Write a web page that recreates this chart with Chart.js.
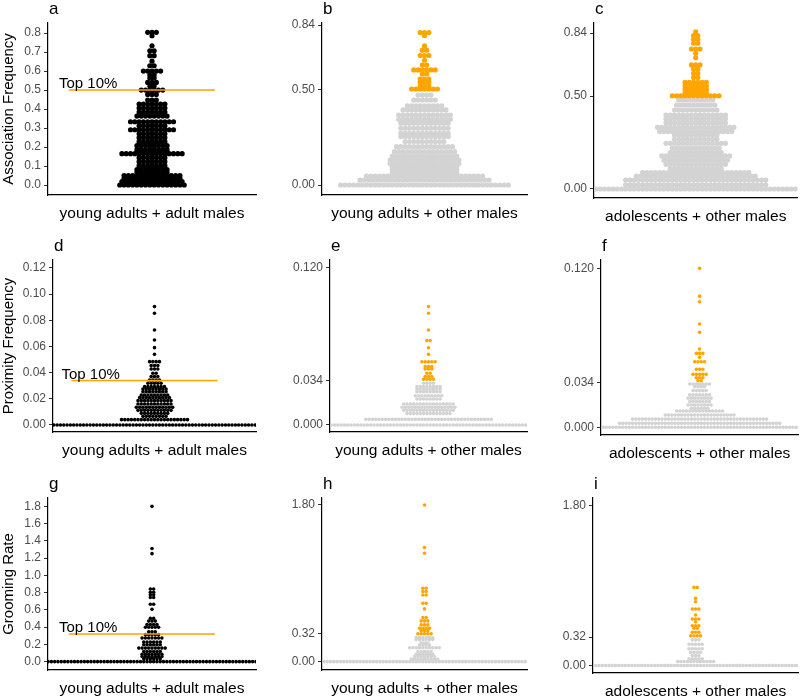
<!DOCTYPE html>
<html>
<head>
<meta charset="utf-8">
<script src="https://cdn.jsdelivr.net/npm/chart.js@4.4.1/dist/chart.umd.min.js"></script>
<style>
  body { margin: 0; background: #fff; }
  #wrap { position: relative; width: 800px; height: 697px; overflow: hidden; }
  #wrap canvas { position: absolute; }
</style>
</head>
<body>
<div id="wrap"></div>
<script>
// column / row labels
const xLabels = ['young adults + adult males', 'young adults + other males', 'adolescents + other males'];
const yTitles = ['Association Frequency', 'Proximity Frequency', 'Grooming Rate'];

// top 10% cut-offs per measure
const thresholds = [0.5, 0.034, 0.32];

// tick labels
const assocTicks = [0, 0.1, 0.2, 0.3, 0.4, 0.5, 0.6, 0.7, 0.8];
const assocKeyTicks = [0, 0.5, 0.84];
const proxTicks = [0, 0.02, 0.04, 0.06, 0.08, 0.1, 0.12];
const proxKeyTicks = [0, 0.034, 0.12];
const groomTicks = [0, 0.2, 0.4, 0.6, 0.8, 1.0, 1.2, 1.4, 1.6, 1.8];
const groomKeyTicks = [0, 0.32, 1.8];

// dot stacks: value of each row and number of dots in it
// a - association, young adults + adult males
const aLevels = [0.804,0.786,0.733,0.707,0.681,0.652,0.628,0.600,0.579,0.563,0.540,0.521,0.500,0.477,0.447,0.426,0.405,0.384,0.363,0.333,0.312,0.291,0.270,0.249,0.228,0.207,0.186,0.165,0.144,0.123,0.102,0.081,0.065,0.050,0.035,0.018,0.000];
const aCounts = [3,1,1,2,2,1,2,5,2,2,3,2,6,3,3,7,7,7,8,11,7,11,7,7,7,8,8,15,7,7,7,8,8,14,14,15,16];
// b - association, young adults + other males
const bLevels = [0.800,0.785,0.730,0.708,0.680,0.655,0.630,0.604,0.583,0.556,0.540,0.520,0.504,
  0.472,0.446,0.415,0.394,0.367,0.345,0.324,0.298,0.271,0.254,0.228,0.201,0.175,0.152,0.131,0.113,0.096,0.079,0.061,0.047,0.026,0.000];
const bCounts = [3,1,1,2,3,1,2,6,2,3,3,3,7,
  4,6,9,11,13,13,12,12,12,12,10,14,15,16,17,17,16,16,16,28,31,40];
// c - association, adolescents + other males
const cLevels = [0.847,0.826,0.806,0.785,0.754,0.731,0.707,0.668,0.646,0.623,0.601,0.575,0.555,0.537,0.519,0.502,
  0.479,0.452,0.425,0.398,0.378,0.356,0.332,0.309,0.291,0.268,0.246,0.220,0.196,0.178,0.156,0.133,0.111,0.088,0.070,0.048,0.022,0.000];
const cCounts = [1,2,2,2,3,1,1,3,2,2,2,6,6,6,6,12,
  9,10,11,15,15,15,19,18,11,11,15,12,13,17,16,15,13,26,29,34,34,50];
// d - proximity, young adults + adult males
const dLevels = [0.0905,0.0854,0.0726,0.0650,0.0591,0.0540,0.0484,0.0454,0.0428,0.0395,0.0370,0.0344,0.0319,0.0293,0.0275,0.0255,0.0229,0.0209,0.0186,0.0161,0.0135,0.0112,0.0089,0.0066,0.0041,0];
const dCounts = [1,1,1,1,1,1,4,3,3,2,3,4,5,7,8,8,9,10,11,11,12,11,9,8,21,70];
// e - proximity, young adults + other males
const eLevels = [0.0905,0.0854,0.0726,0.0645,0.0590,0.0540,0.0483,0.0446,0.0428,0.0395,0.0370,0.0350,
  0.0319,0.0293,0.0275,0.0255,0.0224,0.0199,0.0161,0.0135,0.0112,0.0087,0.0043,0];
const eCounts = [1,1,1,2,1,1,5,3,3,2,3,4,
  4,8,8,8,9,8,16,17,16,14,39,70];
// f - proximity, adolescents + other males
const fLevels = [0.1200,0.0990,0.0948,0.0780,0.0717,0.0591,0.0558,0.0528,0.0495,0.0438,0.0400,0.0374,0.0352,
  0.0327,0.0307,0.0277,0.0245,0.0220,0.0194,0.0169,0.0144,0.0123,0.0093,0.0062,0.0030,0];
const fCounts = [1,1,1,1,1,1,3,1,4,3,5,3,2,
  7,4,5,7,8,7,8,6,15,22,42,50,80];
// g - grooming, young adults + adult males
const gLevels = [1.800,1.311,1.252,0.842,0.803,0.775,0.744,0.665,0.607,0.501,0.470,0.431,0.399,0.345,0.313,0.274,0.227,0.196,0.157,0.117,0.086,0.059,0.032,0];
const gCounts = [1,1,1,2,2,2,2,2,1,2,3,4,5,3,5,7,6,6,9,6,7,7,6,70];
// h - grooming, young adults + other males
const hLevels = [1.800,1.310,1.246,0.843,0.805,0.766,0.671,0.606,0.506,0.468,0.422,0.383,0.356,0.320,
  0.278,0.253,0.215,0.190,0.160,0.115,0.085,0.058,0.030,0];
const hCounts = [1,1,1,2,2,2,2,1,2,3,3,4,3,5,
  6,6,3,4,10,5,6,7,9,70];
// i - grooming, adolescents + other males
const iLevels = [0.881,0.757,0.719,0.637,0.570,0.525,0.494,0.449,0.420,0.375,0.334,
  0.289,0.240,0.188,0.150,0.113,0.075,0.045,0];
const iCounts = [2,1,1,3,1,3,1,3,2,3,4,
  3,5,5,4,3,5,12,80];

const FONT = '"Liberation Sans", Arial, sans-serif';
const BLACK = '#000000', GREY = '#D3D3D3', ORANGE = '#FFA500';
const lineX = [-83, 63]; // span of the "Top 10%" segment, px from centre

// canvases are transparent, so rows may overlap a little
const colLeft = [0, 266, 532], colWidth = [266, 266, 268];
const rowTop = [0, 225, 455], rowHeight = [230, 242, 242];

const panels = [
  { letter: 'a', row: 0, col: 0, levels: aLevels, counts: aCounts, ticks: assocTicks, dec: 1, range: [-0.0526, 0.853], area: [48, 23, 256, 195] },
  { letter: 'b', row: 0, col: 1, levels: bLevels, counts: bCounts, ticks: assocKeyTicks, dec: 2, range: [-0.0525, 0.8505], area: [56, 23, 261, 195] },
  { letter: 'c', row: 0, col: 2, levels: cLevels, counts: cCounts, ticks: assocKeyTicks, dec: 2, range: [-0.0485, 0.894], area: [62, 23, 268, 198] },
  { letter: 'd', row: 1, col: 0, levels: dLevels, counts: dCounts, ticks: proxTicks, dec: 2, range: [-0.00535, 0.1261], area: [53, 35, 256, 207] },
  { letter: 'e', row: 1, col: 1, levels: eLevels, counts: eCounts, ticks: proxKeyTicks, dec: 3, range: [-0.00535, 0.1261], area: [64, 35, 261, 207] },
  { letter: 'f', row: 1, col: 2, levels: fLevels, counts: fCounts, ticks: proxKeyTicks, dec: 3, range: [-0.0058, 0.1263], area: [69, 35, 268, 210] },
  { letter: 'g', row: 2, col: 0, levels: gLevels, counts: gCounts, ticks: groomTicks, dec: 1, range: [-0.097, 1.897], area: [48, 43, 256, 215] },
  { letter: 'h', row: 2, col: 1, levels: hLevels, counts: hCounts, ticks: groomKeyTicks, dec: 2, range: [-0.096, 1.88], area: [56, 43, 261, 215] },
  { letter: 'i', row: 2, col: 2, levels: iLevels, counts: iCounts, ticks: groomKeyTicks, dec: 2, range: [-0.085, 1.89], area: [61, 43, 268, 218] }
];

function dotPoints(levels, counts, spacing, keep) {
  const pts = [];
  levels.forEach((v, i) => {
    if (!keep(v)) return;
    const n = counts[i];
    for (let k = 0; k < n; k++) pts.push({ x: (k - (n - 1) / 2) * spacing, y: v });
  });
  return pts;
}

const panelText = {
  id: 'panelText',
  afterDraw(chart, args, opts) {
    const { ctx, chartArea: ca, scales } = chart;
    ctx.save();
    ctx.fillStyle = '#000';
    ctx.textBaseline = 'alphabetic';
    ctx.textAlign = 'left';
    ctx.font = '17px ' + FONT;
    ctx.fillText(opts.letter, ca.left + 1, ca.top - 9);
    ctx.textAlign = 'center';
    ctx.font = '15.5px ' + FONT;
    ctx.fillText(opts.xTitle, (ca.left + ca.right) / 2, ca.bottom + 23);
    if (opts.topLabel) {
      ctx.textAlign = 'left';
      ctx.font = '15px ' + FONT;
      ctx.fillText('Top 10%', scales.x.getPixelForValue(lineX[0]) - 10, scales.y.getPixelForValue(opts.threshold) - 2);
    }
    ctx.restore();
  }
};

const wrap = document.getElementById('wrap');
panels.forEach(p => {
  const W = colWidth[p.col], H = rowHeight[p.row];
  const [aL, aT, aR, aB] = p.area;
  const cv = document.createElement('canvas');
  cv.width = W; cv.height = H;
  cv.style.left = colLeft[p.col] + 'px';
  cv.style.top = rowTop[p.row] + 'px';
  cv.style.width = W + 'px'; cv.style.height = H + 'px';
  wrap.appendChild(cv);

  const thr = thresholds[p.row];
  const radius = p.row === 0 ? 2.6 : 1.8;
  const spacing = p.row === 0 ? 4.3 : 3.3;
  const half = (aR - aL) / 2;
  const first = p.col === 0;

  const dotStyle = { pointRadius: radius, pointBorderWidth: 0, pointHoverRadius: radius, order: 1, clip: 0 };
  let datasets;
  if (first) {
    datasets = [
      { type: 'line', data: [{ x: lineX[0], y: thr }, { x: lineX[1], y: thr }], borderColor: ORANGE, borderWidth: 1.5, pointRadius: 0, showLine: true, order: 0 },
      Object.assign({ data: dotPoints(p.levels, p.counts, spacing, () => true), backgroundColor: BLACK }, dotStyle)
    ];
  } else {
    datasets = [
      Object.assign({ data: dotPoints(p.levels, p.counts, spacing, v => v >= thr), backgroundColor: ORANGE }, dotStyle),
      Object.assign({ data: dotPoints(p.levels, p.counts, spacing, v => v < thr), backgroundColor: GREY }, dotStyle)
    ];
  }

  new Chart(cv, {
    type: 'scatter',
    data: { datasets: datasets },
    options: {
      responsive: false,
      animation: false,
      events: [],
      layout: { padding: { top: aT, right: W - aR, bottom: 0, left: 0 } },
      plugins: {
        legend: { display: false },
        tooltip: { enabled: false },
        panelText: { letter: p.letter, xTitle: xLabels[p.col], topLabel: first, threshold: thr }
      },
      scales: {
        x: {
          type: 'linear', min: -half, max: half,
          ticks: { display: false },
          grid: { display: true, drawOnChartArea: false, drawTicks: false },
          border: { display: true, color: '#000', width: 1.2 },
          afterFit: s => { s.height = H - aB; }
        },
        y: {
          type: 'linear', min: p.range[0], max: p.range[1],
          afterBuildTicks: s => { s.ticks = p.ticks.map(v => ({ value: v })); },
          afterFit: s => { s.width = aL; },
          ticks: {
            autoSkip: false, padding: 3, color: '#4d4d4d',
            font: { size: 12, family: FONT },
            callback: v => Number(v).toFixed(p.dec)
          },
          grid: { display: true, drawOnChartArea: false, drawTicks: true, tickLength: 4, tickColor: '#333', tickWidth: 1 },
          border: { display: true, color: '#000', width: 1.2 },
          title: { display: first, text: yTitles[p.row], color: '#000', font: { size: 15, family: FONT }, padding: 0 }
        }
      }
    },
    plugins: [panelText]
  });
});
</script>
</body>
</html>
